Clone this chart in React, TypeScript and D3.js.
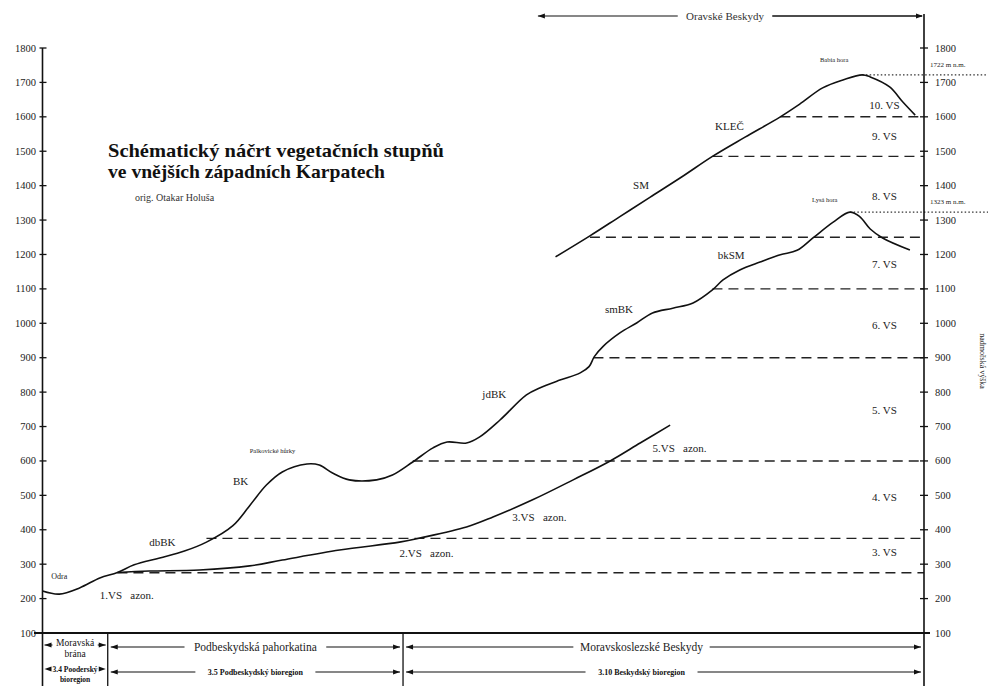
import React from "react";
import * as d3 from "d3";

// ---------- data ----------
const yTicks = [100, 200, 300, 400, 500, 600, 700, 800, 900, 1000, 1100, 1200, 1300, 1400, 1500, 1600, 1700, 1800];

// main profile (Odra -> Lysá hora)
const mainDist = [0, 1.9, 4.2, 6.5, 8.5, 10.4, 13.3, 16.1, 18.6, 21.6, 23.5, 25.4, 27.2, 30.0, 31.4, 32.9, 34.8, 37.9, 39.7, 42.0, 44.3, 45.9, 48.1, 49.6, 51.9, 54.9, 56.4, 58.7, 61.0, 62.0, 62.6, 63.6, 65.5, 67.4, 69.2, 71.5, 73.8, 76.0, 77.2, 79.1, 81.4, 83.7, 85.6, 87.4, 89.7, 91.6, 92.7, 93.9, 95.3, 98.4];
const mainElev = [222, 213, 231, 260, 276, 298, 318, 338, 364, 412, 470, 530, 568, 591, 588, 565, 545, 545, 559, 597, 638, 655, 652, 670, 719, 792, 812, 835, 856, 874, 903, 933, 972, 1001, 1030, 1044, 1059, 1097, 1126, 1155, 1178, 1199, 1212, 1248, 1294, 1323, 1310, 1274, 1248, 1213];

// upper profile (Oravské Beskydy -> Babia hora)
const upperDist = [58.2, 62.1, 65.5, 68.9, 72.5, 76.0, 79.7, 83.7, 85.9, 88.5, 90.8, 93.0, 93.9, 96.1, 97.6, 99.0];
const upperElev = [1193, 1254, 1310, 1366, 1425, 1485, 1541, 1600, 1637, 1684, 1707, 1722, 1716, 1687, 1643, 1605];

// azonal valley line
const azonDist = [8.5, 12.1, 17.8, 23.5, 27.2, 33.7, 40.5, 42.8, 48.1, 51.1, 55.6, 60.2, 64.4, 67.8, 71.2];
const azonElev = [276, 280, 283, 295, 312, 341, 364, 376, 408, 437, 487, 545, 600, 652, 704];

// boundaries between vegetation belts
const boundaryElev = [275, 375, 600, 900, 1100, 1250, 1485, 1600];
const boundaryFrom = [8.5, 18.6, 42.0, 62.5, 76.0, 62.1, 76.0, 83.7];

// summits
const peakNames = ["Babia hora", "Lysá hora"];
const peakElev = [1722, 1323];
const peakDist = [93.0, 91.6];
const peakLabels = ["1722 m n.m.", "1323 m n.m."];
const peakNameDist = [88.2, 87.3];
const peakNameElev = [1765, 1356];

// vegetation belt labels (right column)
const vsNames = ["10. VS", "9. VS", "8. VS", "7. VS", "6. VS", "5. VS", "4. VS", "3. VS"];
const vsElev = [1629, 1541, 1367, 1169, 991, 744, 491, 330];
const vsDist = 95.5;

// zone labels along the profile
const zoneNames = ["Odra", "1.VS   azon.", "dbBK", "BK", "jdBK", "smBK", "bkSM", "SM", "KLEČ", "2.VS   azon.", "3.VS   azon.", "5.VS   azon."];
const zoneDist = [1.0, 6.5, 12.1, 21.6, 49.9, 63.8, 76.6, 67.0, 76.3, 40.5, 53.3, 69.2];
const zoneElev = [263, 205, 359, 536, 789, 1036, 1193, 1399, 1570, 327, 434, 632];
const hillName = "Palkovické hůrky";
const hillDist = 23.5;
const hillElev = [626];

// regions below the profile
const regionNames = ["Moravská brána", "Podbeskydská pahorkatina", "Moravskoslezské Beskydy"];
const bioregionNames = ["3.4 Pooderský bioregion", "3.5 Podbeskydský bioregion", "3.10 Beskydský bioregion"];
const regionBounds = [0, 7.4, 40.9, 100];
const topRegionName = "Oravské Beskydy";
const topRegionBounds = [56.2, 100];

const titleLines = ["Schématický náčrt vegetačních stupňů", "ve vnějších západních Karpatech"];
const author = "orig. Otakar Holuša";
const axisTitle = "nadmořská výška";

// ---------- drawing ----------
const FONT = "'Liberation Serif', 'DejaVu Serif', serif";
const W = 988;
const H = 686;

function zip(a: number[], b: number[]): [number, number][] {
  return a.map((v, i) => [v, b[i]] as [number, number]);
}

function arrow(xTip: number, yy: number, dir: number, key: string) {
  const pts = `${xTip},${yy} ${xTip - dir * 7},${yy - 2.6} ${xTip - dir * 7},${yy + 2.6}`;
  return <polygon key={key} points={pts} fill="#111" />;
}

export default function App() {
  const x = d3.scaleLinear().domain([0, 100]).range([42.5, 924]);
  const y = d3.scaleLinear().domain([100, 1800]).range([633, 48]);
  const line = d3
    .line<[number, number]>()
    .x((d) => x(d[0]))
    .y((d) => y(d[1]))
    .curve(d3.curveCatmullRom.alpha(0.5));

  const xL = x(0);
  const xR = x(100);
  const yBase = y(100);
  const row1 = 647;
  const row2 = 672;

  const regionEls: React.ReactNode[] = [];
  regionNames.forEach((name, i) => {
    const x0 = x(regionBounds[i]);
    const x1 = x(regionBounds[i + 1]);
    const bio = bioregionNames[i];
    const narrow = x1 - x0 < 100;
    if (narrow) {
      const cx = (x0 + x1) / 2;
      const s1 = name.lastIndexOf(" ");
      const s2 = bio.lastIndexOf(" ");
      regionEls.push(
        <g key={"r" + i}>
          {arrow(x0 + 2, row1 - 2, -1, "a1")}
          {arrow(x1 - 2, row1 - 2, 1, "a2")}
          <line x1={x0 + 2} x2={x0 + 10} y1={row1 - 2} y2={row1 - 2} stroke="#111" strokeWidth={1} />
          <line x1={x1 - 10} x2={x1 - 2} y1={row1 - 2} y2={row1 - 2} stroke="#111" strokeWidth={1} />
          <text x={cx} y={row1 - 1} textAnchor="middle" fontSize={9.5} fontFamily={FONT} fill="#111">
            {name.slice(0, s1)}
          </text>
          <text x={cx} y={row1 + 10} textAnchor="middle" fontSize={9.5} fontFamily={FONT} fill="#111">
            {name.slice(s1 + 1)}
          </text>
          {arrow(x0 + 2, row2 - 3, -1, "a3")}
          {arrow(x1 - 2, row2 - 3, 1, "a4")}
          <text x={cx} y={row2} textAnchor="middle" fontSize={7.5} fontWeight="bold" fontFamily={FONT} fill="#111">
            {bio.slice(0, s2)}
          </text>
          <text x={cx} y={row2 + 10} textAnchor="middle" fontSize={7.5} fontWeight="bold" fontFamily={FONT} fill="#111">
            {bio.slice(s2 + 1)}
          </text>
        </g>
      );
    } else {
      const cx = (x0 + x1) / 2 + (i === 2 ? -22 : 0);
      const w1 = name.length * 11.5 * 0.47;
      const w2 = bio.length * 8 * 0.5;
      regionEls.push(
        <g key={"r" + i}>
          <line x1={x0 + 3} x2={cx - w1 / 2 - 6} y1={row1} y2={row1} stroke="#111" strokeWidth={1.2} />
          <line x1={cx + w1 / 2 + 6} x2={x1 - 3} y1={row1} y2={row1} stroke="#111" strokeWidth={1.2} />
          {arrow(x0 + 3, row1, -1, "a1")}
          {arrow(x1 - 3, row1, 1, "a2")}
          <text x={cx} y={row1 + 4} textAnchor="middle" fontSize={11.5} fontFamily={FONT} fill="#222">
            {name}
          </text>
          <line x1={x0 + 3} x2={cx - w2 / 2 - 8} y1={row2} y2={row2} stroke="#111" strokeWidth={1.2} />
          <line x1={cx + w2 / 2 + 8} x2={x1 - 3} y1={row2} y2={row2} stroke="#111" strokeWidth={1.2} />
          {arrow(x0 + 3, row2, -1, "a3")}
          {arrow(x1 - 3, row2, 1, "a4")}
          <text x={cx} y={row2 + 3} textAnchor="middle" fontSize={8} fontWeight="bold" fontFamily={FONT} fill="#111">
            {bio}
          </text>
        </g>
      );
    }
  });

  const tx0 = x(topRegionBounds[0]);
  const tx1 = x(topRegionBounds[1]);
  const tcx = 725;
  const tw = topRegionName.length * 11 * 0.5;

  return (
    <svg
      width={W}
      height={H}
      viewBox={`0 0 ${W} ${H}`}
      style={{ position: "absolute", left: 0, top: 0, background: "#fff" }}
    >
      <rect x={0} y={0} width={W} height={H} fill="#fff" />

      {/* title */}
      <text x={108} y={157} fontSize={19.5} fontWeight="bold" fontFamily={FONT} fill="#111" textLength={336} lengthAdjust="spacingAndGlyphs">
        {titleLines[0]}
      </text>
      <text x={108} y={178} fontSize={19.5} fontWeight="bold" fontFamily={FONT} fill="#111" textLength={277} lengthAdjust="spacingAndGlyphs">
        {titleLines[1]}
      </text>
      <text x={135} y={201} fontSize={10} fontFamily={FONT} fill="#333">
        {author}
      </text>

      {/* boundaries */}
      {boundaryElev.map((e, i) => (
        <line
          key={"b" + i}
          x1={x(boundaryFrom[i])}
          x2={xR}
          y1={y(e)}
          y2={y(e)}
          stroke="#222"
          strokeWidth={1.4}
          strokeDasharray="10,6"
        />
      ))}

      {/* summit dotted lines */}
      {peakElev.map((e, i) => (
        <line
          key={"p" + i}
          x1={x(peakDist[i])}
          x2={W}
          y1={y(e)}
          y2={y(e)}
          stroke="#333"
          strokeWidth={1.2}
          strokeDasharray="1.5,2.2"
        />
      ))}

      {/* profiles */}
      <path d={line(zip(mainDist, mainElev)) || ""} fill="none" stroke="#111" strokeWidth={1.6} />
      <path d={line(zip(upperDist, upperElev)) || ""} fill="none" stroke="#111" strokeWidth={1.6} />
      <path d={line(zip(azonDist, azonElev)) || ""} fill="none" stroke="#111" strokeWidth={1.6} />

      {/* left axis */}
      <line x1={xL} x2={xL} y1={y(1800)} y2={H} stroke="#111" strokeWidth={1.6} />
      {yTicks.map((t) => (
        <g key={"lt" + t}>
          <line x1={xL - 3} x2={xL + 4} y1={y(t)} y2={y(t)} stroke="#111" strokeWidth={1.3} />
          <text x={36} y={y(t) + 3.5} textAnchor="end" fontSize={10.5} fontFamily={FONT} fill="#222">
            {t}
          </text>
        </g>
      ))}

      {/* right axis */}
      <line x1={xR} x2={xR} y1={14} y2={H} stroke="#111" strokeWidth={1.6} />
      {yTicks.map((t) => (
        <g key={"rt" + t}>
          <line x1={xR - 4} x2={xR + 4} y1={y(t)} y2={y(t)} stroke="#111" strokeWidth={1.3} />
          <text x={xR + 11} y={y(t) + 3.5} textAnchor="start" fontSize={10.5} fontFamily={FONT} fill="#222">
            {t}
          </text>
        </g>
      ))}
      <text
        transform={`translate(980, 361) rotate(90)`}
        textAnchor="middle"
        fontSize={8}
        fontFamily={FONT}
        fill="#222"
      >
        {axisTitle}
      </text>

      {/* summit labels */}
      {peakNames.map((n, i) => (
        <g key={"pn" + i}>
          <text x={x(peakNameDist[i])} y={y(peakNameElev[i])} fontSize={6.5} fontFamily={FONT} fill="#222" dominantBaseline="middle">
            {n}
          </text>
          <text x={xR + 6} y={y(peakElev[i]) - 8} fontSize={7} fontFamily={FONT} fill="#222">
            {peakLabels[i]}
          </text>
        </g>
      ))}

      {/* belt labels */}
      {vsNames.map((n, i) => (
        <text
          key={"vs" + i}
          x={x(vsDist)}
          y={y(vsElev[i])}
          textAnchor="middle"
          dominantBaseline="middle"
          fontSize={11}
          fontFamily={FONT}
          fill="#222"
        >
          {n}
        </text>
      ))}

      {/* zone labels */}
      {zoneNames.map((n, i) => (
        <text
          key={"z" + i}
          x={x(zoneDist[i])}
          y={y(zoneElev[i])}
          dominantBaseline="middle"
          fontSize={i === 0 ? 8 : 11}
          fontFamily={FONT}
          fill="#222"
          style={{ whiteSpace: "pre" }}
        >
          {n}
        </text>
      ))}
      <text x={x(hillDist)} y={y(hillElev[0])} dominantBaseline="middle" fontSize={6.5} fontFamily={FONT} fill="#222">
        {hillName}
      </text>

      {/* baseline */}
      <line x1={34} x2={xR + 6} y1={yBase} y2={yBase} stroke="#111" strokeWidth={2.2} />

      {/* region separators */}
      {regionBounds.slice(1, -1).map((b, i) => (
        <line key={"sep" + i} x1={x(b)} x2={x(b)} y1={yBase} y2={H} stroke="#111" strokeWidth={1.3} />
      ))}
      {regionEls}

      {/* top region */}
      <line x1={tx0} x2={tcx - tw / 2 - 6} y1={16} y2={16} stroke="#111" strokeWidth={1.2} />
      <line x1={tcx + tw / 2 + 6} x2={tx1 - 2} y1={16} y2={16} stroke="#111" strokeWidth={1.6} />
      {arrow(tx0, 16, -1, "ta1")}
      {arrow(tx1 - 1, 16, 1, "ta2")}
      <text x={tcx} y={19.5} textAnchor="middle" fontSize={11} fontFamily={FONT} fill="#333">
        {topRegionName}
      </text>
    </svg>
  );
}
